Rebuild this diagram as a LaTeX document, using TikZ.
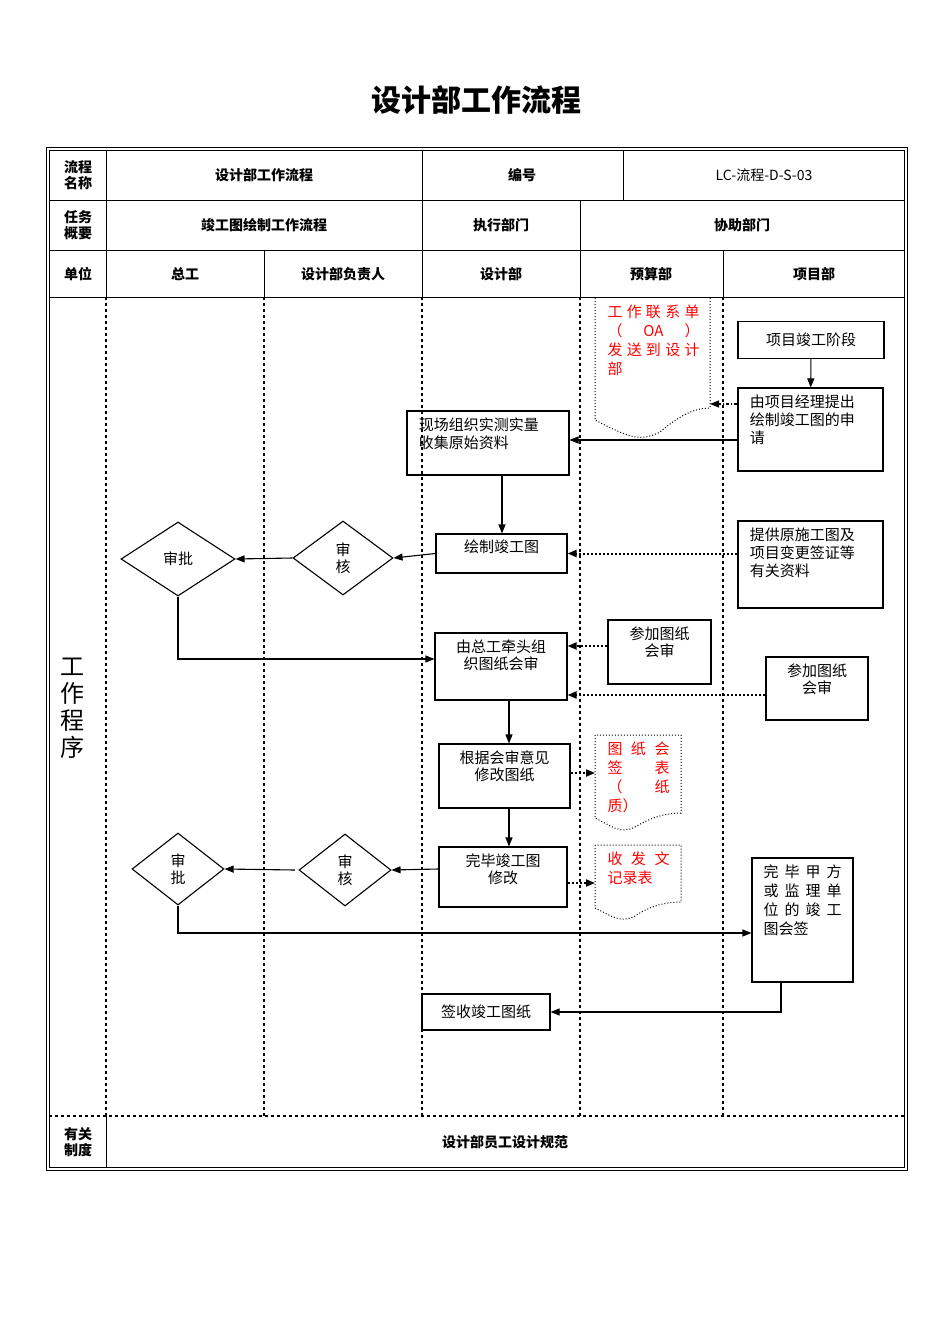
\documentclass[tikz,border=0pt]{standalone}
\usepackage{fontspec}
\setmainfont{Noto Sans CJK SC}
\XeTeXlinebreaklocale "zh"
\XeTeXlinebreakskip=0pt plus 1pt
\usetikzlibrary{arrows.meta,shapes.geometric}
\begin{document}
\begin{tikzpicture}[x=1pt,y=-1pt,line width=1pt,
  box/.style={draw,line width=1.1pt,inner sep=0pt},
  lbl/.style={font=\fontsize{15}{17}\selectfont,align=center},
  tl/.style={font=\fontsize{15}{17}\selectfont,align=left,anchor=north,inner sep=0pt},
  tlw/.style={font=\fontsize{15}{18}\selectfont,align=left,anchor=north west,inner sep=0pt},
  hd/.style={font=\fontsize{14}{16}\selectfont\bfseries,align=center},
  red/.style={text=red,font=\fontsize{15}{19}\selectfont,align=left,anchor=north west,inner sep=0pt},
  dm/.style={draw,line width=1.1pt,diamond,inner sep=0pt},
  ar/.style={-{Triangle[length=9pt,width=7pt]},line width=1.1pt},
  dar/.style={-{Triangle[length=9pt,width=7pt]},line width=2pt,dotted},
  lane/.style={dashed,line width=1.1pt},
  doc/.style={draw,dotted,line width=1pt}]
\useasboundingbox (0,0) rectangle (950,1344);
\node[font=\fontsize{30}{34}\selectfont\bfseries] (title) at (476,100) {设计部工作流程};
% frame
\draw (46,147) rectangle (907,1170);
\draw (49,150) rectangle (904,1167);
\draw (49,200) -- (904,200) (49,250) -- (904,250) (49,297) -- (904,297);
\draw (106,150) -- (106,297) (422,150) -- (422,297) (623,150) -- (623,200)
  (580,200) -- (580,297) (264,250) -- (264,297) (723,250) -- (723,297);
\draw[lane] (49,1116) -- (904,1116);
\draw (106,1116) -- (106,1167);
\foreach \x in {106,264,422,580,723} \draw[lane] (\x,297) -- (\x,1116);
% headers
\node[hd] (h1) at (78,175) {流程\\名称};
\node[hd] (h2) at (264,175) {设计部工作流程};
\node[hd] (h3) at (522,175) {编号};
\node[font=\fontsize{14}{16}\selectfont] (h4) at (764,175) {LC-流程-D-S-03};
\node[hd] (h5) at (78,225) {任务\\概要};
\node[hd] (h6) at (264,225) {竣工图绘制工作流程};
\node[hd] (h7) at (501,225) {执行部门};
\node[hd] (h8) at (742,225) {协助部门};
\node[hd] (u0) at (78,274) {单位};
\node[hd] (u1) at (185,274) {总工};
\node[hd] (u2) at (343,274) {设计部负责人};
\node[hd] (u3) at (501,274) {设计部};
\node[hd] (u4) at (651,274) {预算部};
\node[hd] (u5) at (814,274) {项目部};
\node[font=\fontsize{24}{27}\selectfont,align=center] (gz) at (72,708) {工\\作\\程\\序};
\node[hd] (r1) at (78,1142) {有关\\制度};
\node[hd] (r2) at (505,1142) {设计部员工设计规范};
% boxes
\node[box,minimum width=146,minimum height=37,lbl] (a1) at (811,340) {项目竣工阶段};
\node[box,minimum width=145,minimum height=83] (a2) at (810.5,429.5) {};
\node[tlw] (a2t) at ([xshift=12pt,yshift=-7pt]a2.north west) {由项目经理提出\\绘制竣工图的申\\请};
\node[box,minimum width=162,minimum height=64] (b1) at (488,443) {};
\node[tlw] (b1t) at ([xshift=12pt,yshift=-7pt]b1.north west) {现场组织实测实量\\收集原始资料};
\node[box,minimum width=131,minimum height=39,lbl] (b2) at (501.5,553.5) {};
\node[tl] (b2t) at ([yshift=-6pt]b2.north) {绘制竣工图};
\node[box,minimum width=145,minimum height=87] (a3) at (810.5,564.5) {};
\node[tlw] (a3t) at ([xshift=12pt,yshift=-7pt]a3.north west) {提供原施工图及\\项目变更签证等\\有关资料};
\node[dm,minimum width=114,minimum height=74,lbl] (s1) at (178,559) {审批};
\node[dm,minimum width=100,minimum height=74,lbl] (s2) at (343,558) {审\\核};
\node[box,minimum width=132,minimum height=67] (b3) at (501,666.5) {};
\node[tl,align=center] (b3t) at ([yshift=-7pt]b3.north) {由总工牵头组\\织图纸会审};
\node[box,minimum width=103,minimum height=64] (c1) at (659.5,652) {};
\node[tl,align=center] (c1t) at ([yshift=-7pt]c1.north) {参加图纸\\会审};
\node[box,minimum width=102,minimum height=63] (a4) at (817,688.5) {};
\node[tl,align=center] (a4t) at ([yshift=-7pt]a4.north) {参加图纸\\会审};
\node[box,minimum width=131,minimum height=64] (b4) at (504.5,776) {};
\node[tl,align=center] (b4t) at ([yshift=-7pt]b4.north) {根据会审意见\\修改图纸};
\node[box,minimum width=128,minimum height=60] (b5) at (503,877) {};
\node[tl,align=center] (b5t) at ([yshift=-7pt]b5.north) {完毕竣工图\\修改};
\node[dm,minimum width=92,minimum height=72,lbl] (s3) at (178,869) {审\\批};
\node[dm,minimum width=92,minimum height=72,lbl] (s4) at (345,870) {审\\核};
\node[box,minimum width=101,minimum height=124] (a5) at (802.5,920) {};
\node[red,text=black,anchor=north,text width=78] (a5t) at ([yshift=-7pt]a5.north) {完\hfill 毕\hfill 甲\hfill 方\\或\hfill 监\hfill 理\hfill 单\\位\hfill 的\hfill 竣\hfill 工\\图会签};
\node[box,minimum width=128,minimum height=36,lbl] (b6) at (486,1012) {签收竣工图纸};
% documents
\draw[doc] (595,298) -- (595,420) .. controls (630,438) and (640,442) .. (660,432) .. controls (680,415) and (695,408) .. (710,408) -- (710,298);
\coordinate (d1) at (710,404);
\node[red,text width=92] (t1) at (607,304) {工\hfill 作\hfill 联\hfill 系\hfill 单\\（\hfill OA\hfill ）\\发\hfill 送\hfill 到\hfill 设\hfill 计\\部};
\draw[doc] (595,735) -- (595,818) .. controls (610,825) and (620,835) .. (635,827) .. controls (650,818) and (665,813) .. (681,813) -- (681,735) -- cycle;
\coordinate (d2) at (595,773);
\node[red,text width=62] (t2) at (607,741) {图\hfill 纸\hfill 会\\签\hfill 表\\（\hfill 纸\\质）};
\draw[doc] (595,845) -- (595,908) .. controls (610,915) and (620,924) .. (635,916) .. controls (650,906) and (665,902) .. (681,902) -- (681,845) -- cycle;
\coordinate (d3) at (595,883);
\node[red,text width=62] (t3) at (607,851) {收\hfill 发\hfill 文\\记录表};
% connectors
\draw[ar] (a1) -- (a2);
\draw[-{Triangle[length=9pt,width=7pt]},line width=1.1pt,dash dot] (a2.west |- d1) -- (d1);
\draw[ar] (a2.west |- 0,440) -- (b1.east |- 0,440);
\draw[ar] (b1.south -| 502,0) -- (b2.north -| 502,0);
\draw[dar] (a3.west |- b2.east) -- (b2.east);
\draw[ar] (b2.west) -- (s2.east);
\draw[ar] (s2.west) -- (s1.east);
\draw[ar] (s1.south) |- (b3.west |- 0,659);
\draw[dar] (c1.west |- 0,646) -- (b3.east |- 0,646);
\draw[dar] (a4.west |- 0,695) -- (b3.east |- 0,695);
\draw[ar] (b3.south -| 509,0) -- (b4.north -| 509,0);
\draw[dar] (b4.east |- d2) -- (d2);
\draw[ar] (b4.south -| 509,0) -- (b5.north -| 509,0);
\draw[dar] (b5.east |- d3) -- (d3);
\draw[ar] (b5.west |- 0,869) -- (s4.east);
\draw[ar] (s4.west -| 295,0) -- (s3.east);
\draw[ar] (s3.south) |- (a5.west |- 0,933);
\draw[ar] (a5.south -| 781,0) |- (b6.east);
\end{tikzpicture}
\end{document}
